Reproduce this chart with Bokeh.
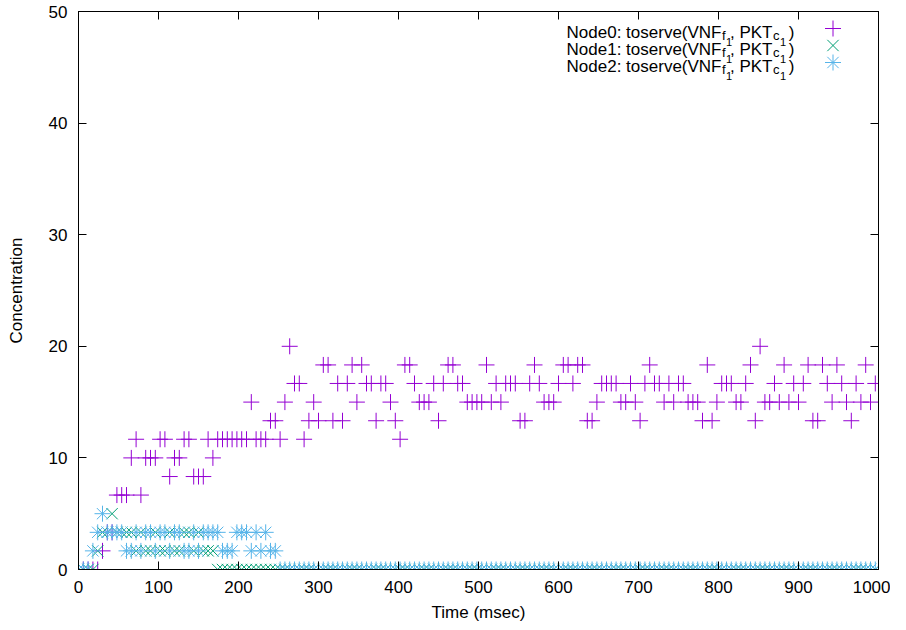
from bokeh.plotting import figure
from bokeh.models import Range1d, LinearAxis, FixedTicker, Label, CustomJSTickFormatter
from bokeh.embed import file_html
from bokeh.resources import INLINE

# ---------------- data ----------------
time_ms = [
    0, 6, 12, 18, 24, 30, 36, 42, 48, 54,
    60, 66, 72, 78, 84, 90, 96, 102, 108, 114,
    120, 126, 132, 138, 144, 150, 156, 162, 168, 174,
    180, 186, 192, 198, 204, 210, 216, 222, 228, 234,
    240, 246, 252, 258, 264, 270, 276, 282, 288, 294,
    300, 306, 312, 318, 324, 330, 336, 342, 348, 354,
    360, 366, 372, 378, 384, 390, 396, 402, 408, 414,
    420, 426, 432, 438, 444, 450, 456, 462, 468, 474,
    480, 486, 492, 498, 504, 510, 516, 522, 528, 534,
    540, 546, 552, 558, 564, 570, 576, 582, 588, 594,
    600, 606, 612, 618, 624, 630, 636, 642, 648, 654,
    660, 666, 672, 678, 684, 690, 696, 702, 708, 714,
    720, 726, 732, 738, 744, 750, 756, 762, 768, 774,
    780, 786, 792, 798, 804, 810, 816, 822, 828, 834,
    840, 846, 852, 858, 864, 870, 876, 882, 888, 894,
    900, 906, 912, 918, 924, 930, 936, 942, 948, 954,
    960, 966, 972, 978, 984, 990, 996,
]

node0 = [
    0, 0, 0, 0, 0, 1.67, 3.33, 3.33, 6.67, 6.67,
    6.67, 10, 11.67, 6.67, 10, 10, 10, 11.67, 11.67, 8.33,
    10, 10, 11.67, 11.67, 8.33, 8.33, 8.33, 11.67, 10, 11.67,
    11.67, 11.67, 11.67, 11.67, 11.67, 11.67, 15, 11.67, 11.67, 11.67,
    13.33, 13.33, 11.67, 15, 20, 16.67, 16.67, 11.67, 13.33, 15,
    13.33, 18.33, 18.33, 13.33, 16.67, 13.33, 16.67, 18.33, 15, 18.33,
    16.67, 16.67, 13.33, 16.67, 16.67, 15, 13.33, 11.67, 18.33, 18.33,
    16.67, 15, 15, 15, 16.67, 13.33, 16.67, 18.33, 18.33, 16.67,
    16.67, 15, 15, 15, 15, 18.33, 15, 16.67, 15, 16.67,
    16.67, 16.67, 13.33, 13.33, 16.67, 18.33, 16.67, 15, 15, 15,
    16.67, 18.33, 18.33, 16.67, 18.33, 18.33, 13.33, 13.33, 15, 16.67,
    16.67, 16.67, 16.67, 15, 15, 16.67, 15, 13.33, 16.67, 18.33,
    16.67, 16.67, 15, 16.67, 15, 16.67, 16.67, 15, 15, 15,
    13.33, 18.33, 13.33, 15, 16.67, 16.67, 16.67, 15, 15, 16.67,
    18.33, 13.33, 20, 15, 15, 16.67, 15, 18.33, 15, 16.67,
    15, 16.67, 18.33, 13.33, 13.33, 18.33, 16.67, 15, 18.33, 16.67,
    15, 13.33, 16.67, 15, 18.33, 15, 16.67,
]

node1 = [
    0, 0, 0, 0, 1.67, 3.33, 3.33, 5, 3.33, 3.33,
    3.33, 3.33, 1.67, 3.33, 1.67, 1.67, 3.33, 1.67, 1.67, 3.33,
    1.67, 1.67, 3.33, 3.33, 1.67, 3.33, 1.67, 1.67, 1.67, 0,
    0, 0, 0, 0, 0, 0, 0, 0, 0, 0,
    0, 0, 0, 0, 0, 0, 0, 0, 0, 0,
    0, 0, 0, 0, 0, 0, 0, 0, 0, 0,
    0, 0, 0, 0, 0, 0, 0, 0, 0, 0,
    0, 0, 0, 0, 0, 0, 0, 0, 0, 0,
    0, 0, 0, 0, 0, 0, 0, 0, 0, 0,
    0, 0, 0, 0, 0, 0, 0, 0, 0, 0,
    0, 0, 0, 0, 0, 0, 0, 0, 0, 0,
    0, 0, 0, 0, 0, 0, 0, 0, 0, 0,
    0, 0, 0, 0, 0, 0, 0, 0, 0, 0,
    0, 0, 0, 0, 0, 0, 0, 0, 0, 0,
    0, 0, 0, 0, 0, 0, 0, 0, 0, 0,
    0, 0, 0, 0, 0, 0, 0, 0, 0, 0,
    0, 0, 0, 0, 0, 0, 0,
]

node2 = [
    0, 0, 0, 1.67, 3.33, 5, 3.33, 3.33, 3.33, 3.33,
    1.67, 1.67, 3.33, 1.67, 3.33, 3.33, 1.67, 3.33, 3.33, 1.67,
    3.33, 3.33, 1.67, 1.67, 3.33, 1.67, 3.33, 3.33, 3.33, 3.33,
    1.67, 1.67, 1.67, 3.33, 3.33, 3.33, 1.67, 3.33, 1.67, 3.33,
    1.67, 1.67, 0, 0, 0, 0, 0, 0, 0, 0,
    0, 0, 0, 0, 0, 0, 0, 0, 0, 0,
    0, 0, 0, 0, 0, 0, 0, 0, 0, 0,
    0, 0, 0, 0, 0, 0, 0, 0, 0, 0,
    0, 0, 0, 0, 0, 0, 0, 0, 0, 0,
    0, 0, 0, 0, 0, 0, 0, 0, 0, 0,
    0, 0, 0, 0, 0, 0, 0, 0, 0, 0,
    0, 0, 0, 0, 0, 0, 0, 0, 0, 0,
    0, 0, 0, 0, 0, 0, 0, 0, 0, 0,
    0, 0, 0, 0, 0, 0, 0, 0, 0, 0,
    0, 0, 0, 0, 0, 0, 0, 0, 0, 0,
    0, 0, 0, 0, 0, 0, 0, 0, 0, 0,
    0, 0, 0, 0, 0, 0, 0,
]

x_ticks = [0, 100, 200, 300, 400, 500, 600, 700, 800, 900, 1000]
y_ticks = [0, 10, 20, 30, 40, 50]
series_names = ["Node0", "Node1", "Node2"]
series_colors = ["#9400D3", "#009E73", "#56B4E9"]

# ---------------- figure ----------------
FONT = "Liberation Sans"
FW, FH = 800, 558

p = figure(frame_width=FW, frame_height=FH,
           x_range=Range1d(0, 1000), y_range=Range1d(0, 50),
           output_backend="svg", toolbar_location=None,
           min_border_left=78, min_border_top=11,
           min_border_right=12, min_border_bottom=57)
p.background_fill_color = "white"
p.border_fill_color = "white"
p.outline_line_color = "black"
p.outline_line_width = 1
p.xgrid.visible = False
p.ygrid.visible = False

# pixel-space ranges for the legend layout (origin at the frame's top-left)
p.extra_x_ranges = {"px": Range1d(0, FW)}
p.extra_y_ranges = {"py": Range1d(FH, 0)}


def style_axis(ax):
    ax.major_tick_in = 8
    ax.major_tick_out = 0
    ax.minor_tick_in = 0
    ax.minor_tick_out = 0
    ax.axis_line_color = "black"
    ax.major_tick_line_color = "black"
    ax.major_label_text_font = FONT
    ax.major_label_text_font_size = "17px"
    ax.major_label_text_color = "black"
    ax.axis_label_text_font = FONT
    ax.axis_label_text_font_size = "17px"
    ax.axis_label_text_font_style = "normal"
    ax.axis_label_text_color = "black"


xa = p.xaxis[0]
ya = p.yaxis[0]
style_axis(xa)
style_axis(ya)
xa.ticker = FixedTicker(ticks=x_ticks)
ya.ticker = FixedTicker(ticks=y_ticks)
xa.axis_label = "Time (msec)"
ya.axis_label = "Concentration"
xa.major_label_standoff = 11
xa.axis_label_standoff = 7
ya.major_label_standoff = 11
ya.axis_label_standoff = 20

blank = CustomJSTickFormatter(code="return ''")
top_ax = LinearAxis(ticker=FixedTicker(ticks=x_ticks), formatter=blank,
                    major_label_standoff=0)
right_ax = LinearAxis(ticker=FixedTicker(ticks=y_ticks), formatter=blank,
                      major_label_standoff=0)
style_axis(top_ax)
style_axis(right_ax)
p.add_layout(top_ax, "above")
p.add_layout(right_ax, "right")

# ---------------- data marks ----------------
MS = 16
p.scatter(time_ms, node0, marker="cross", size=MS, line_color=series_colors[0], line_width=1)
p.scatter(time_ms, node1, marker="x", size=MS, line_color=series_colors[1], line_width=1)
p.scatter(time_ms, node2, marker="cross", size=MS, line_color=series_colors[2], line_width=1)
p.scatter(time_ms, node2, marker="x", size=MS, line_color=series_colors[2], line_width=1)

# ---------------- legend (manual, for the sub-subscripts) ----------------
row_base = [21.3, 38.3, 55.3]      # text baselines (px from frame top)
row_mark = [17.0, 34.0, 51.0]      # key centres
key_x = 754.5
markers = [["cross"], ["x"], ["cross", "x"]]


def lab(x, y, text, size, align="left"):
    p.add_layout(Label(x=x, y=y, x_range_name="px", y_range_name="py", text=text,
                       text_font=FONT, text_font_size=size, text_color="black",
                       text_align=align, text_baseline="alphabetic"))


for i, name in enumerate(series_names):
    b = row_base[i]
    lab(643, b, name + ": toserve(VNF", "17px", "right")
    lab(643.5, b + 3, "f", "13px")
    lab(647.5, b + 9, "1", "11px")
    lab(694, b, ", PKT", "17px", "right")
    lab(694.5, b + 3, "c", "13px")
    lab(701.5, b + 9, "1", "11px")
    lab(716, b, ")", "17px", "right")
    for m in markers[i]:
        p.scatter([key_x], [row_mark[i]], marker=m, size=MS, line_color=series_colors[i],
                  line_width=1, x_range_name="px", y_range_name="py")

open("out.html", "w").write(file_html(p, INLINE))
